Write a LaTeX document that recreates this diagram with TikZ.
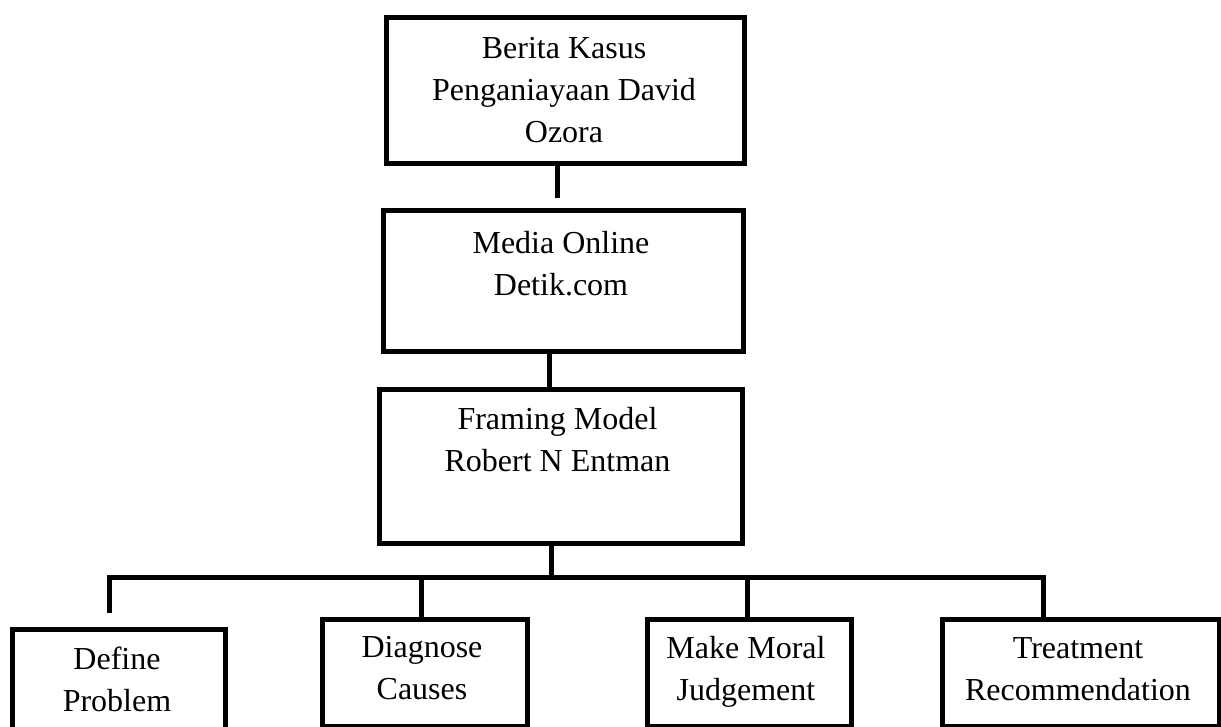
\documentclass[tikz,border=0pt]{standalone}
\usepackage{fontspec}
\setmainfont{Liberation Serif}
\tikzset{
  box/.style={draw, line width=5pt, rectangle, inner sep=0pt, anchor=north west},
  txt/.style={anchor=north, inner sep=0pt, align=center, font=\fontsize{32}{42}\selectfont},
  conn/.style={line width=5pt},
}
\begin{document}
\begin{tikzpicture}[x=1pt,y=-1pt]
\clip (0,0) rectangle (1221,727);
% boxes
\node[box, minimum width=358.5pt, minimum height=146pt] (b1) at (383.5,15.5) {};
\node[box, minimum width=359.5pt, minimum height=141pt] (b2) at (381,208) {};
\node[box, minimum width=363pt, minimum height=154pt] (b3) at (377,387) {};
\node[box, minimum width=213pt, minimum height=130pt] (ba) at (10,627) {};
\node[box, minimum width=205.5pt, minimum height=106.5pt] (bb) at (319.5,617) {};
\node[box, minimum width=203.5pt, minimum height=106.5pt] (bc) at (645,617) {};
\node[box, minimum width=277pt, minimum height=106.5pt] (bd) at (940,617) {};
% texts
\node[txt] (t1) at (564,37) {Berita Kasus\\Penganiayaan David\\Ozora};
\node[txt] (t2) at (561,231) {Media Online\\Detik.com};
\node[txt] (t3) at (557.5,407) {Framing Model\\Robert N Entman};
\node[txt] (ta) at (117,647) {Define\\Problem};
\node[txt] (tb) at (422,636) {Diagnose\\Causes};
\node[txt] (tc) at (746,636) {Make Moral\\Judgement};
\node[txt] (td) at (1078,637) {Treatment\\Recommendation};
% connector coordinates
\coordinate (j1) at (557,198);
\coordinate (x2) at (549,0);
\coordinate (x3) at (551,0);
\coordinate (busL) at (109,577);
\coordinate (busR) at (1043,577);
\coordinate (ja) at (109,613);
\coordinate (xb) at (421,577);
\coordinate (xc) at (747,577);
% connectors
\draw[conn] (b1.south -| j1) -- (j1);
\draw[conn] (b2.south -| x2) -- (b3.north -| x2);
\draw[conn] (b3.south -| x3) -- (busL -| x3);
\draw[conn] (ja) -- (busL) -- (busR) -- (bd.north -| busR);
\draw[conn] (xb) -- (bb.north -| xb);
\draw[conn] (xc) -- (bc.north -| xc);
\end{tikzpicture}
\end{document}
